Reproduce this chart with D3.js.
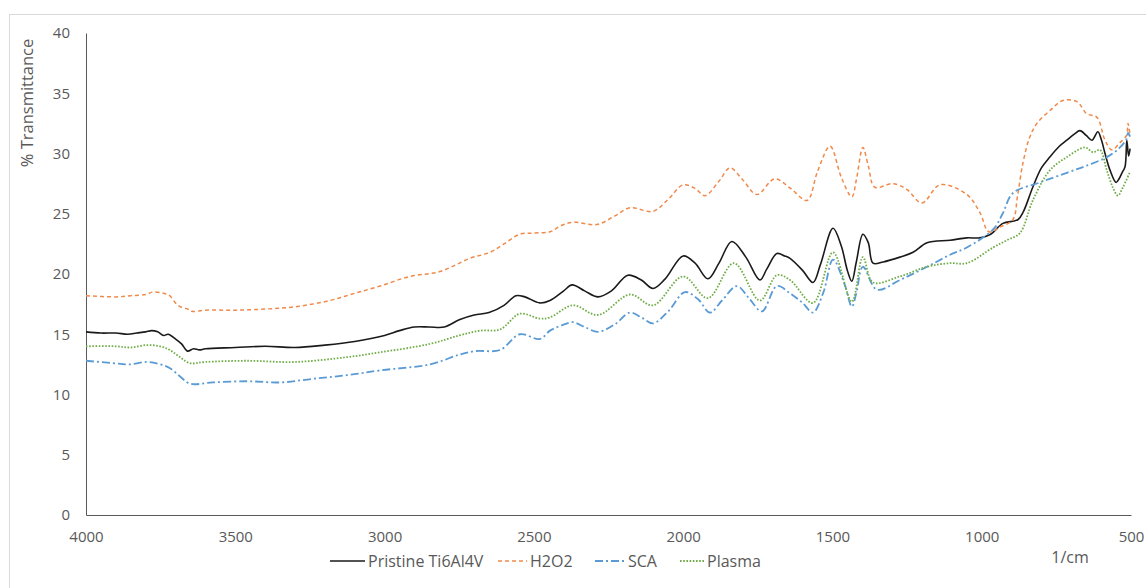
<!DOCTYPE html>
<html><head><meta charset="utf-8">
<script src="https://cdn.jsdelivr.net/npm/d3@7"></script>
<style>body{margin:0;background:#fff;} svg{display:block;} text{font-family:"Open Sans",sans-serif;fill:#595959;}</style>
</head><body><svg id="c" width="1146" height="588"></svg>
<script>
const yTicks = [0,5,10,15,20,25,30,35,40];
const xTicks = [4000,3500,3000,2500,2000,1500,1000,500];
const seriesNames = ["Pristine Ti6Al4V","H2O2","SCA","Plasma"];

const pristine = [[4000,15.2],[3950,15.1],[3900,15.1],[3860,15.0],[3830,15.1],[3800,15.2],[3780,15.3],[3760,15.2],[3740,14.9],[3725,15.0],[3700,14.6],[3680,14.2],[3660,13.6],[3640,13.8],[3620,13.7],[3600,13.8],[3500,13.9],[3400,14.0],[3300,13.9],[3200,14.1],[3100,14.4],[3000,14.9],[2950,15.3],[2900,15.6],[2850,15.6],[2800,15.6],[2750,16.2],[2700,16.6],[2650,16.8],[2600,17.4],[2560,18.2],[2530,18.1],[2480,17.6],[2446,17.8],[2400,18.6],[2372,19.1],[2330,18.6],[2285,18.1],[2240,18.6],[2185,19.9],[2140,19.5],[2101,18.8],[2060,19.6],[2000,21.5],[1960,20.9],[1917,19.6],[1880,20.9],[1837,22.7],[1790,21.4],[1743,19.5],[1720,20.4],[1686,21.7],[1660,21.5],[1642,21.3],[1600,20.3],[1565,19.3],[1540,20.8],[1498,23.8],[1470,22.3],[1450,20.3],[1435,19.4],[1420,21.0],[1398,23.3],[1380,22.6],[1364,20.9],[1330,21.0],[1274,21.4],[1230,21.8],[1183,22.6],[1106,22.8],[1050,23.0],[1006,23.0],[970,23.3],[929,24.2],[879,24.5],[860,25.2],[829,27.2],[800,28.8],[772,29.7],[740,30.6],[715,31.1],[690,31.6],[671,31.9],[650,31.5],[631,31.1],[611,31.8],[600,31.2],[587,30.0],[570,28.6],[550,27.6],[540,27.9],[530,28.4],[520,28.9],[514,31.1],[508,29.8],[503,30.4]];

const h2o2 = [[4000,18.2],[3900,18.1],[3850,18.2],[3800,18.3],[3776,18.5],[3740,18.4],[3720,18.2],[3700,17.6],[3685,17.3],[3660,17.1],[3645,16.9],[3600,17.0],[3500,17.0],[3394,17.1],[3293,17.3],[3183,17.8],[3100,18.4],[3015,19.0],[2915,19.8],[2815,20.2],[2714,21.3],[2647,21.8],[2600,22.5],[2547,23.3],[2500,23.4],[2446,23.5],[2410,24.0],[2369,24.3],[2289,24.1],[2230,24.8],[2178,25.5],[2101,25.2],[2050,26.2],[2000,27.4],[1960,27.1],[1927,26.5],[1880,27.7],[1843,28.8],[1800,27.8],[1753,26.6],[1693,27.9],[1640,27.1],[1585,26.1],[1550,28.5],[1508,30.6],[1470,28.0],[1435,26.4],[1420,27.8],[1398,30.5],[1380,29.0],[1358,27.2],[1297,27.5],[1250,27.0],[1200,25.9],[1140,27.4],[1050,26.6],[1006,25.1],[976,23.5],[939,23.9],[896,24.5],[880,26.5],[862,29.2],[840,31.3],[815,32.5],[770,33.6],[728,34.4],[681,34.3],[648,33.3],[614,33.0],[587,31.1],[564,30.3],[537,30.9],[515,31.5],[510,32.5],[503,31.5]];

const sca = [[4000,12.8],[3910,12.6],[3853,12.5],[3796,12.7],[3752,12.5],[3720,12.2],[3685,11.5],[3652,10.9],[3575,11.0],[3461,11.1],[3350,11.0],[3240,11.3],[3126,11.6],[3015,12.0],[2848,12.5],[2750,13.3],[2697,13.6],[2613,13.7],[2547,15.0],[2480,14.6],[2446,15.3],[2410,15.7],[2369,16.0],[2330,15.6],[2285,15.2],[2230,15.8],[2178,16.8],[2140,16.4],[2101,15.9],[2050,16.9],[1994,18.5],[1950,17.9],[1910,16.8],[1870,17.8],[1820,19.0],[1780,18.0],[1736,16.9],[1686,19.0],[1642,18.4],[1600,17.6],[1565,16.8],[1530,18.5],[1498,21.2],[1460,19.2],[1435,17.3],[1420,18.4],[1398,20.6],[1351,18.7],[1274,19.5],[1183,20.6],[1106,21.6],[1050,22.2],[962,23.7],[930,25.0],[896,26.7],[805,27.6],[715,28.4],[648,29.0],[581,29.7],[537,30.5],[515,31.2],[510,31.7],[503,31.4]];

const plasma = [[4000,14.0],[3900,14.0],[3850,13.9],[3796,14.1],[3752,14.0],[3720,13.7],[3685,13.1],[3652,12.6],[3600,12.7],[3461,12.8],[3300,12.7],[3126,13.1],[3015,13.5],[2848,14.2],[2750,14.9],[2680,15.3],[2613,15.4],[2547,16.7],[2480,16.3],[2446,16.4],[2369,17.4],[2285,16.6],[2178,18.3],[2101,17.4],[2000,19.8],[1917,18.0],[1830,20.9],[1743,17.8],[1686,19.9],[1642,19.5],[1565,17.6],[1498,21.8],[1435,17.7],[1398,21.4],[1364,19.3],[1274,19.8],[1183,20.6],[1106,20.9],[1050,20.9],[962,22.2],[916,22.8],[872,23.4],[829,26.1],[772,28.6],[715,29.7],[654,30.5],[627,30.1],[604,30.3],[581,28.6],[561,27.2],[544,26.5],[527,27.2],[503,28.5]];

const data = [pristine, h2o2, sca, plasma];
const colors = ["#1a1a1a","#f08a4b","#5b9bd5","#70ad47"];
const dashes = [null,"4,3","8,3,2,3","1.6,1.6"];
const widths = [1.6,1.5,1.8,1.8];

const svg = d3.select("#c");
svg.append("rect").attr("x",9.5).attr("y",14.5).attr("width",1150).attr("height",600)
  .attr("fill","none").attr("stroke","#d9d9d9");

const x = d3.scaleLinear().domain([4000,500]).range([86,1131]);
const y = d3.scaleLinear().domain([0,40]).range([515,33]);

const ya = svg.append("g").attr("transform","translate(86,0)")
  .call(d3.axisLeft(y).tickValues(yTicks).tickSize(0).tickPadding(16));
ya.select(".domain").attr("stroke","#595959").attr("stroke-width",1);
ya.selectAll("text").style("font-size","15px").style("font-family","Open Sans").attr("fill","#595959");

const xa = svg.append("g").attr("transform","translate(0,515)")
  .call(d3.axisBottom(x).tickValues(xTicks).tickSize(0).tickPadding(16).tickFormat(d3.format("d")));
xa.select(".domain").attr("stroke","#595959").attr("stroke-width",1);
xa.selectAll("text").style("font-size","15px").style("font-family","Open Sans").attr("fill","#595959");

svg.append("text").attr("transform","translate(33,103) rotate(-90)").attr("text-anchor","middle")
  .style("font-size","16.5px").text("% Transmittance");
svg.append("text").attr("x",1070).attr("y",563).attr("text-anchor","middle")
  .style("font-size","16px").text("1/cm");

const line = d3.line().x(d=>x(d[0])).y(d=>y(d[1])).curve(d3.curveCatmullRom.alpha(0.5));
data.forEach((s,i)=>{
  svg.append("path").datum(s).attr("d",line).attr("fill","none")
    .attr("stroke",colors[i]).attr("stroke-width",widths[i])
    .attr("stroke-dasharray",dashes[i]);
});

const legX = [330,498,595,680];
const legW = [35,29,30,24];
seriesNames.forEach((n,i)=>{
  const g = svg.append("g");
  g.append("line").attr("x1",legX[i]).attr("x2",legX[i]+legW[i]).attr("y1",561).attr("y2",561)
    .attr("stroke",colors[i]).attr("stroke-width",widths[i]).attr("stroke-dasharray",dashes[i]);
  g.append("text").attr("x",legX[i]+legW[i]+3).attr("y",566.5).style("font-size","16px").text(n);
});
</script></body></html>
